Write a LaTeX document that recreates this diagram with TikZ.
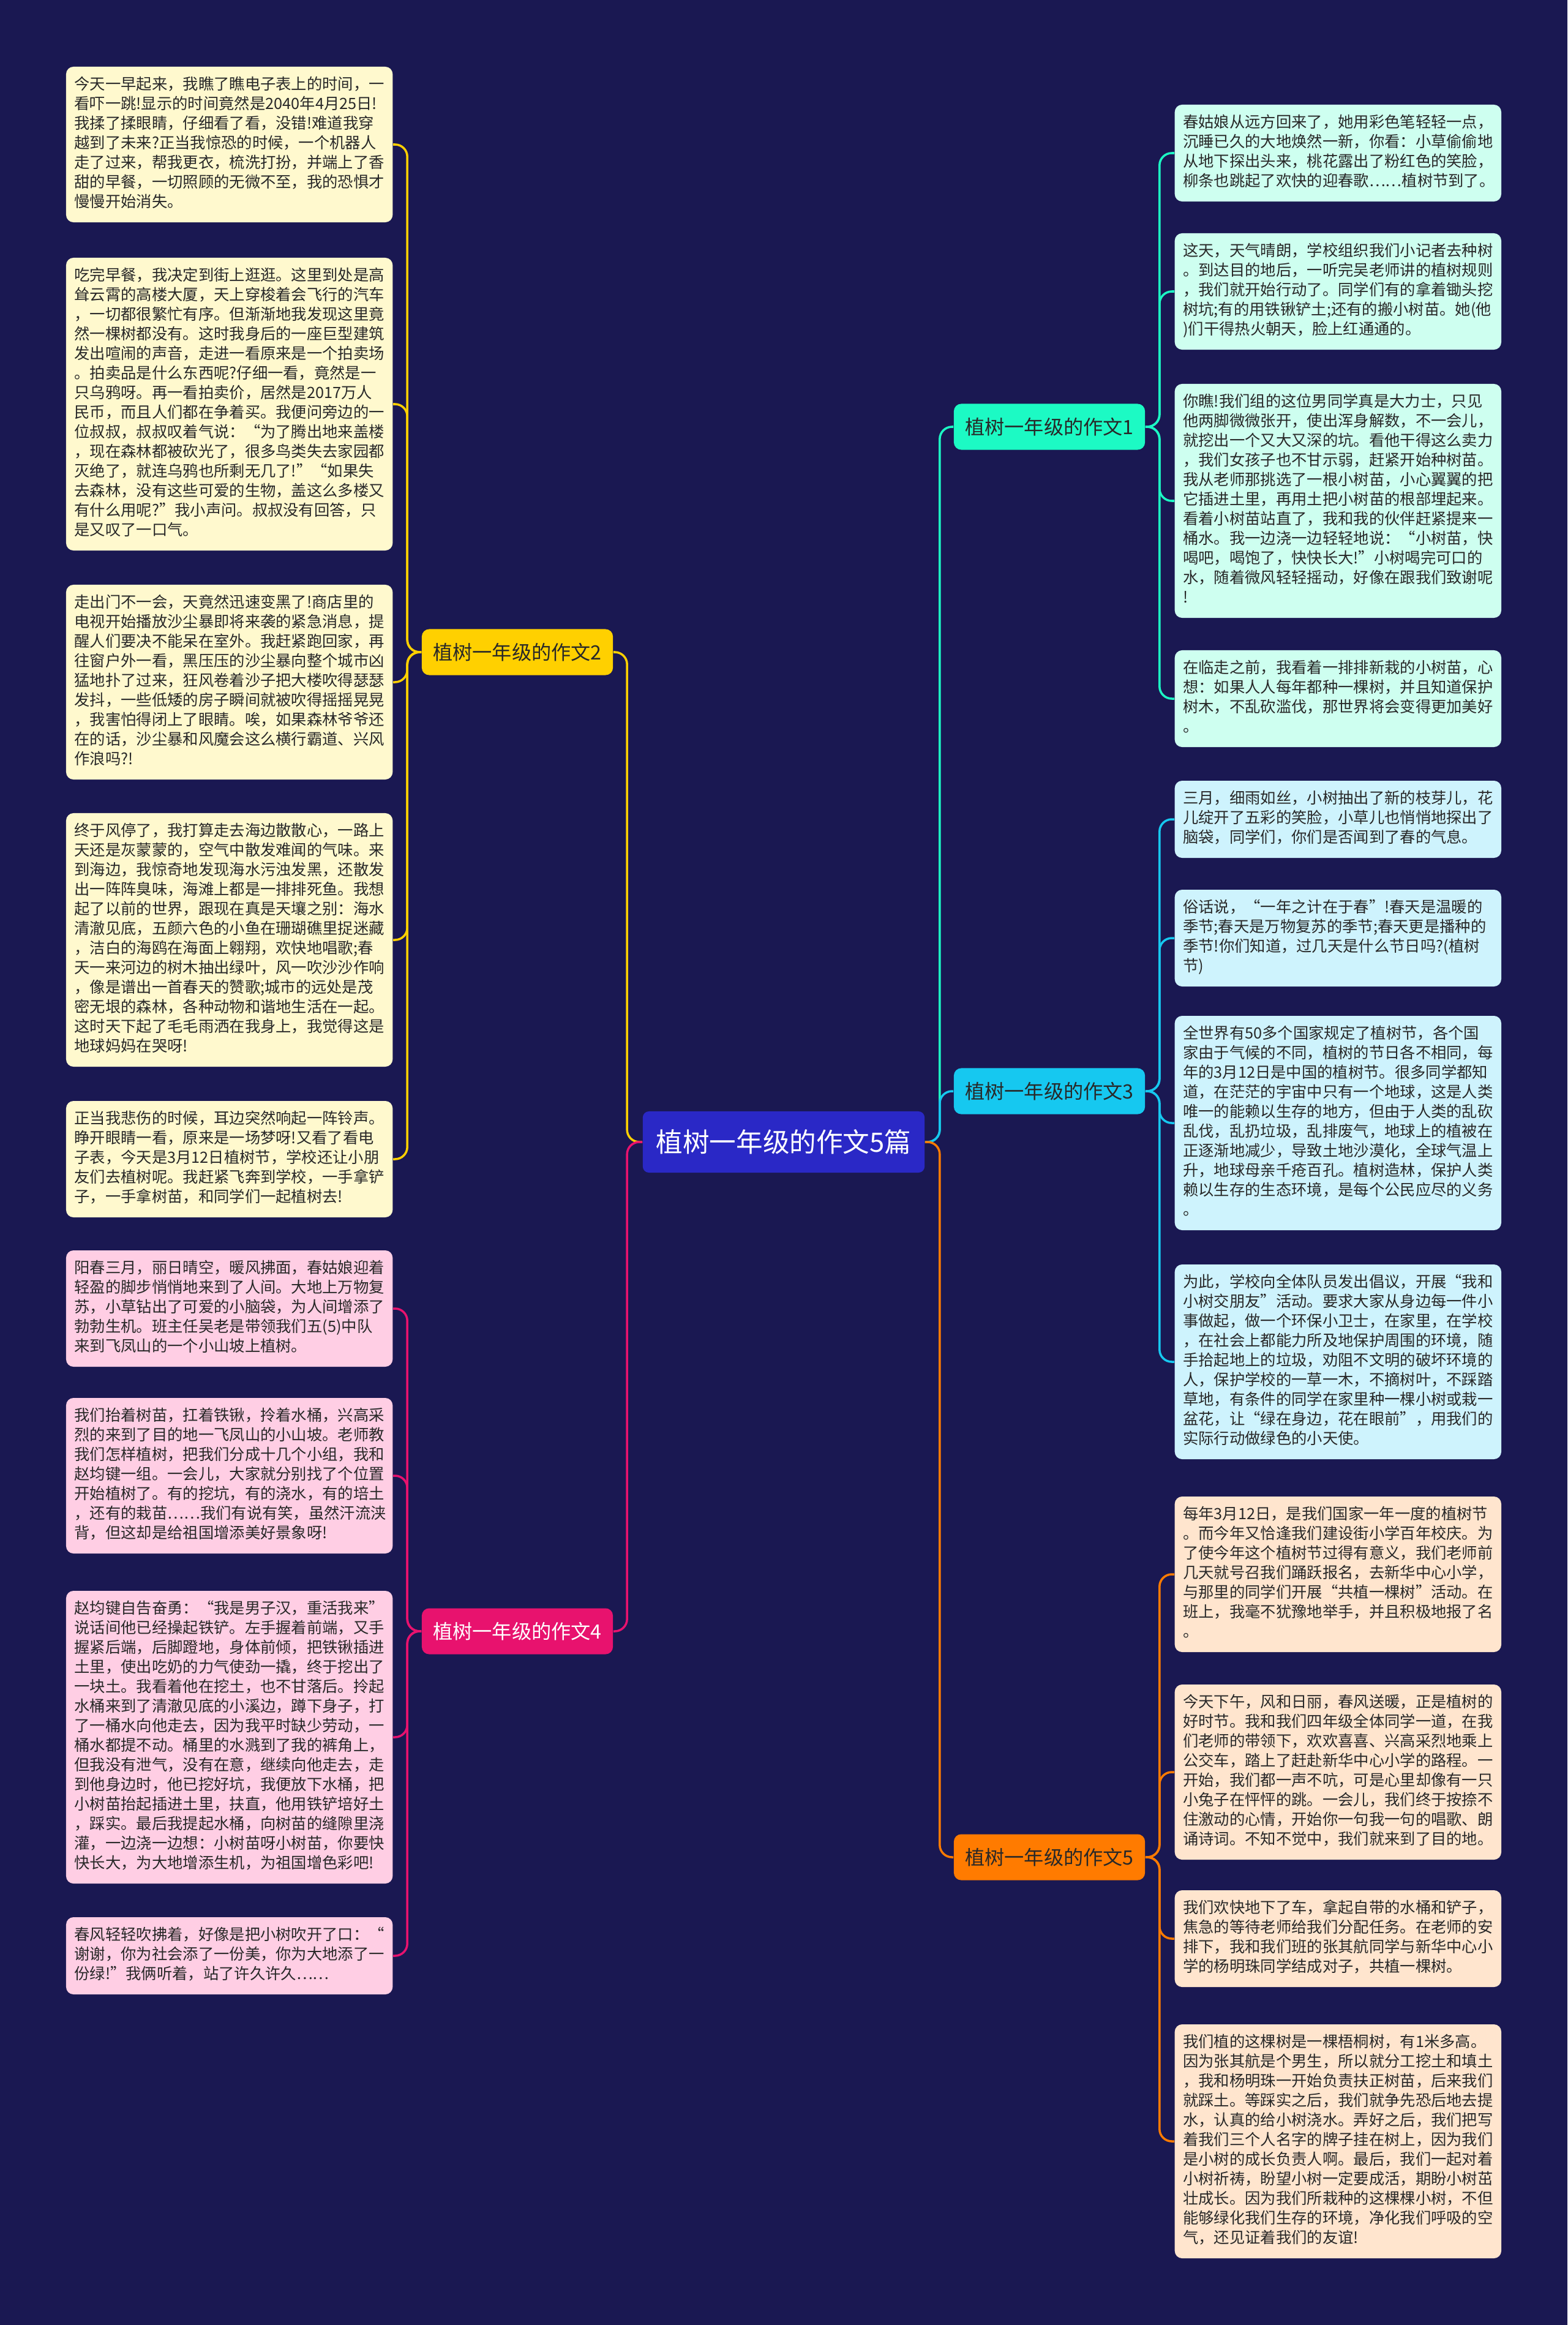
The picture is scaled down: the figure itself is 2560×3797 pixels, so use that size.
\documentclass[tikz,border=0pt]{standalone}
\usepackage{fontspec}
\setmainfont{Noto Sans CJK SC}
\definecolor{bgnavy}{RGB}{26,24,82}
\definecolor{rootblue}{RGB}{42,40,198}
\definecolor{tealbr}{RGB}{28,250,196}
\definecolor{yellowbr}{RGB}{255,208,0}
\definecolor{cyanbr}{RGB}{22,200,240}
\definecolor{pinkbr}{RGB}{232,18,110}
\definecolor{orangebr}{RGB}{255,123,0}
\definecolor{tealleaf}{RGB}{206,255,240}
\definecolor{yellowleaf}{RGB}{255,249,206}
\definecolor{cyanleaf}{RGB}{206,243,253}
\definecolor{pinkleaf}{RGB}{255,206,228}
\definecolor{orangeleaf}{RGB}{255,229,206}
\definecolor{leaftext}{RGB}{40,40,40}
\newcommand{\leaffont}{\fontsize{7.2pt}{9.1pt}\selectfont}
\newcommand{\branchfont}{\fontsize{9.15pt}{11pt}\selectfont}
\newcommand{\rootfont}{\fontsize{12.4pt}{15pt}\selectfont}

\begin{document}
\begin{tikzpicture}[x=0.01cm,y=-0.01cm,
  leaf/.style={rounded corners=0.12cm, inner xsep=0.135cm, inner ysep=0.15cm,
    text width=5.06cm, align=left, font=\leaffont, text=leaftext,
    execute at begin node=\strut, execute at end node=\strut},
  branch/.style={rounded corners=0.12cm, minimum width=3.12cm, minimum height=0.75cm,
    inner sep=0pt, font=\branchfont, text=leaftext},
  link/.style={line width=1pt, rounded corners=0.2cm}]
\fill[bgnavy] (0,0) rectangle (2560,3797);

% centre and branches
\node[fill=rootblue, text=white, rounded corners=0.1cm, minimum width=4.6cm,
  minimum height=1cm, inner sep=0pt, font=\rootfont] (root) at (1280,1865) {植树一年级的作文5篇};
\node[branch, fill=tealbr]   (e1) at (1714,697)  {植树一年级的作文1};
\node[branch, fill=yellowbr] (e2) at (845,1065)  {植树一年级的作文2};
\node[branch, fill=cyanbr]   (e3) at (1714,1782) {植树一年级的作文3};
\node[branch, fill=pinkbr, text=white] (e4) at (845,2664) {植树一年级的作文4};
\node[branch, fill=orangebr] (e5) at (1714,3033) {植树一年级的作文5};

% essay 1
\node[leaf, fill=tealleaf, anchor=west] (e1a) at (1918,250) {春姑娘从远方回来了，她用彩色笔轻轻一点，\\
沉睡已久的大地焕然一新，你看：小草偷偷地\\
从地下探出头来，桃花露出了粉红色的笑脸，\\
柳条也跳起了欢快的迎春歌……植树节到了。};
\node[leaf, fill=tealleaf, anchor=west] (e1b) at (1918,476) {这天，天气晴朗，学校组织我们小记者去种树\\
。到达目的地后，一听完吴老师讲的植树规则\\
，我们就开始行动了。同学们有的拿着锄头挖\\
树坑;有的用铁锹铲土;还有的搬小树苗。她(他\\
)们干得热火朝天，脸上红通通的。};
\node[leaf, fill=tealleaf, anchor=west] (e1c) at (1918,818) {你瞧!我们组的这位男同学真是大力士，只见\\
他两脚微微张开，使出浑身解数，不一会儿，\\
就挖出一个又大又深的坑。看他干得这么卖力\\
，我们女孩子也不甘示弱，赶紧开始种树苗。\\
我从老师那挑选了一根小树苗，小心翼翼的把\\
它插进土里，再用土把小树苗的根部埋起来。\\
看着小树苗站直了，我和我的伙伴赶紧提来一\\
桶水。我一边浇一边轻轻地说：“小树苗，快\\
喝吧，喝饱了，快快长大!”小树喝完可口的\\
水，随着微风轻轻摇动，好像在跟我们致谢呢\\
!};
\node[leaf, fill=tealleaf, anchor=west] (e1d) at (1918,1141) {在临走之前，我看着一排排新栽的小树苗，心\\
想：如果人人每年都种一棵树，并且知道保护\\
树木，不乱砍滥伐，那世界将会变得更加美好\\
。};

% essay 2
\node[leaf, fill=yellowleaf, anchor=east] (e2a) at (642,236) {今天一早起来，我瞧了瞧电子表上的时间，一\\
看吓一跳!显示的时间竟然是2040年4月25日!\\
我揉了揉眼睛，仔细看了看，没错!难道我穿\\
越到了未来?正当我惊恐的时候，一个机器人\\
走了过来，帮我更衣，梳洗打扮，并端上了香\\
甜的早餐，一切照顾的无微不至，我的恐惧才\\
慢慢开始消失。};
\node[leaf, fill=yellowleaf, anchor=east] (e2b) at (642,660) {吃完早餐，我决定到街上逛逛。这里到处是高\\
耸云霄的高楼大厦，天上穿梭着会飞行的汽车\\
，一切都很繁忙有序。但渐渐地我发现这里竟\\
然一棵树都没有。这时我身后的一座巨型建筑\\
发出喧闹的声音，走进一看原来是一个拍卖场\\
。拍卖品是什么东西呢?仔细一看，竟然是一\\
只乌鸦呀。再一看拍卖价，居然是2017万人\\
民币，而且人们都在争着买。我便问旁边的一\\
位叔叔，叔叔叹着气说：“为了腾出地来盖楼\\
，现在森林都被砍光了，很多鸟类失去家园都\\
灭绝了，就连乌鸦也所剩无几了!”“如果失\\
去森林，没有这些可爱的生物，盖这么多楼又\\
有什么用呢?”我小声问。叔叔没有回答，只\\
是又叹了一口气。};
\node[leaf, fill=yellowleaf, anchor=east] (e2c) at (642,1114) {走出门不一会，天竟然迅速变黑了!商店里的\\
电视开始播放沙尘暴即将来袭的紧急消息，提\\
醒人们要决不能呆在室外。我赶紧跑回家，再\\
往窗户外一看，黑压压的沙尘暴向整个城市凶\\
猛地扑了过来，狂风卷着沙子把大楼吹得瑟瑟\\
发抖，一些低矮的房子瞬间就被吹得摇摇晃晃\\
，我害怕得闭上了眼睛。唉，如果森林爷爷还\\
在的话，沙尘暴和风魔会这么横行霸道、兴风\\
作浪吗?!};
\node[leaf, fill=yellowleaf, anchor=east] (e2d) at (642,1535) {终于风停了，我打算走去海边散散心，一路上\\
天还是灰蒙蒙的，空气中散发难闻的气味。来\\
到海边，我惊奇地发现海水污浊发黑，还散发\\
出一阵阵臭味，海滩上都是一排排死鱼。我想\\
起了以前的世界，跟现在真是天壤之别：海水\\
清澈见底，五颜六色的小鱼在珊瑚礁里捉迷藏\\
，洁白的海鸥在海面上翱翔，欢快地唱歌;春\\
天一来河边的树木抽出绿叶，风一吹沙沙作响\\
，像是谱出一首春天的赞歌;城市的远处是茂\\
密无垠的森林，各种动物和谐地生活在一起。\\
这时天下起了毛毛雨洒在我身上，我觉得这是\\
地球妈妈在哭呀!};
\node[leaf, fill=yellowleaf, anchor=east] (e2e) at (642,1893) {正当我悲伤的时候，耳边突然响起一阵铃声。\\
睁开眼睛一看，原来是一场梦呀!又看了看电\\
子表，今天是3月12日植树节，学校还让小朋\\
友们去植树呢。我赶紧飞奔到学校，一手拿铲\\
子，一手拿树苗，和同学们一起植树去!};

% essay 3
\node[leaf, fill=cyanleaf, anchor=west] (e3a) at (1918,1338) {三月，细雨如丝，小树抽出了新的枝芽儿，花\\
儿绽开了五彩的笑脸，小草儿也悄悄地探出了\\
脑袋，同学们，你们是否闻到了春的气息。};
\node[leaf, fill=cyanleaf, anchor=west] (e3b) at (1918,1532) {俗话说，“一年之计在于春”!春天是温暖的\\
季节;春天是万物复苏的季节;春天更是播种的\\
季节!你们知道，过几天是什么节日吗?(植树\\
节)};
\node[leaf, fill=cyanleaf, anchor=west] (e3c) at (1918,1834) {全世界有50多个国家规定了植树节，各个国\\
家由于气候的不同，植树的节日各不相同，每\\
年的3月12日是中国的植树节。很多同学都知\\
道，在茫茫的宇宙中只有一个地球，这是人类\\
唯一的能赖以生存的地方，但由于人类的乱砍\\
乱伐，乱扔垃圾，乱排废气，地球上的植被在\\
正逐渐地减少，导致土地沙漠化，全球气温上\\
升，地球母亲千疮百孔。植树造林，保护人类\\
赖以生存的生态环境，是每个公民应尽的义务\\
。};
\node[leaf, fill=cyanleaf, anchor=west] (e3d) at (1918,2224) {为此，学校向全体队员发出倡议，开展“我和\\
小树交朋友”活动。要求大家从身边每一件小\\
事做起，做一个环保小卫士，在家里，在学校\\
，在社会上都能力所及地保护周围的环境，随\\
手拾起地上的垃圾，劝阻不文明的破坏环境的\\
人，保护学校的一草一木，不摘树叶，不踩踏\\
草地，有条件的同学在家里种一棵小树或栽一\\
盆花，让“绿在身边，花在眼前”，用我们的\\
实际行动做绿色的小天使。};

% essay 4
\node[leaf, fill=pinkleaf, anchor=east] (e4a) at (642,2137) {阳春三月，丽日晴空，暖风拂面，春姑娘迎着\\
轻盈的脚步悄悄地来到了人间。大地上万物复\\
苏，小草钻出了可爱的小脑袋，为人间增添了\\
勃勃生机。班主任吴老是带领我们五(5)中队\\
来到飞凤山的一个小山坡上植树。};
\node[leaf, fill=pinkleaf, anchor=east] (e4b) at (642,2410) {我们抬着树苗，扛着铁锹，拎着水桶，兴高采\\
烈的来到了目的地一飞凤山的小山坡。老师教\\
我们怎样植树，把我们分成十几个小组，我和\\
赵均键一组。一会儿，大家就分别找了个位置\\
开始植树了。有的挖坑，有的浇水，有的培土\\
，还有的栽苗……我们有说有笑，虽然汗流浃\\
背，但这却是给祖国增添美好景象呀!};
\node[leaf, fill=pinkleaf, anchor=east] (e4c) at (642,2837) {赵均键自告奋勇：“我是男子汉，重活我来”\\
说话间他已经操起铁铲。左手握着前端，又手\\
握紧后端，后脚蹬地，身体前倾，把铁锹插进\\
土里，使出吃奶的力气使劲一撬，终于挖出了\\
一块土。我看着他在挖土，也不甘落后。拎起\\
水桶来到了清澈见底的小溪边，蹲下身子，打\\
了一桶水向他走去，因为我平时缺少劳动，一\\
桶水都提不动。桶里的水溅到了我的裤角上，\\
但我没有泄气，没有在意，继续向他走去，走\\
到他身边时，他已挖好坑，我便放下水桶，把\\
小树苗抬起插进土里，扶直，他用铁铲培好土\\
，踩实。最后我提起水桶，向树苗的缝隙里浇\\
灌，一边浇一边想：小树苗呀小树苗，你要快\\
快长大，为大地增添生机，为祖国增色彩吧!};
\node[leaf, fill=pinkleaf, anchor=east] (e4d) at (642,3194) {春风轻轻吹拂着，好像是把小树吹开了口：“\\
谢谢，你为社会添了一份美，你为大地添了一\\
份绿!”我俩听着，站了许久许久……};

% essay 5
\node[leaf, fill=orangeleaf, anchor=west] (e5a) at (1918,2571) {每年3月12日，是我们国家一年一度的植树节\\
。而今年又恰逢我们建设街小学百年校庆。为\\
了使今年这个植树节过得有意义，我们老师前\\
几天就号召我们踊跃报名，去新华中心小学，\\
与那里的同学们开展“共植一棵树”活动。在\\
班上，我毫不犹豫地举手，并且积极地报了名\\
。};
\node[leaf, fill=orangeleaf, anchor=west] (e5b) at (1918,2894) {今天下午，风和日丽，春风送暖，正是植树的\\
好时节。我和我们四年级全体同学一道，在我\\
们老师的带领下，欢欢喜喜、兴高采烈地乘上\\
公交车，踏上了赶赴新华中心小学的路程。一\\
开始，我们都一声不吭，可是心里却像有一只\\
小兔子在怦怦的跳。一会儿，我们终于按捺不\\
住激动的心情，开始你一句我一句的唱歌、朗\\
诵诗词。不知不觉中，我们就来到了目的地。};
\node[leaf, fill=orangeleaf, anchor=west] (e5c) at (1918,3166) {我们欢快地下了车，拿起自带的水桶和铲子，\\
焦急的等待老师给我们分配任务。在老师的安\\
排下，我和我们班的张其航同学与新华中心小\\
学的杨明珠同学结成对子，共植一棵树。};
\node[leaf, fill=orangeleaf, anchor=west] (e5d) at (1918,3497) {我们植的这棵树是一棵梧桐树，有1米多高。\\
因为张其航是个男生，所以就分工挖土和填土\\
，我和杨明珠一开始负责扶正树苗，后来我们\\
就踩土。等踩实之后，我们就争先恐后地去提\\
水，认真的给小树浇水。弄好之后，我们把写\\
着我们三个人名字的牌子挂在树上，因为我们\\
是小树的成长负责人啊。最后，我们一起对着\\
小树祈祷，盼望小树一定要成活，期盼小树茁\\
壮成长。因为我们所栽种的这棵棵小树，不但\\
能够绿化我们生存的环境，净化我们呼吸的空\\
气，还见证着我们的友谊!};

% connectors
\draw[link, tealbr]   (root.east) -- ++(24,0) |- (e1.west);
\draw[link, cyanbr]   (root.east) -- ++(24,0) |- (e3.west);
\draw[link, orangebr] (root.east) -- ++(24,0) |- (e5.west);
\draw[link, yellowbr] (root.west) -- ++(-25,0) |- (e2.east);
\draw[link, pinkbr]   (root.west) -- ++(-25,0) |- (e4.east);
\foreach \leaf in {e1a,e1b,e1c,e1d}
  \draw[link, tealbr] (e1.east) -- ++(23,0) |- (\leaf.west);
\foreach \leaf in {e3a,e3b,e3c,e3d}
  \draw[link, cyanbr] (e3.east) -- ++(23,0) |- (\leaf.west);
\foreach \leaf in {e5a,e5b,e5c,e5d}
  \draw[link, orangebr] (e5.east) -- ++(23,0) |- (\leaf.west);
\foreach \leaf in {e2a,e2b,e2c,e2d,e2e}
  \draw[link, yellowbr] (e2.west) -- ++(-23,0) |- (\leaf.east);
\foreach \leaf in {e4a,e4b,e4c,e4d}
  \draw[link, pinkbr] (e4.west) -- ++(-23,0) |- (\leaf.east);
\end{tikzpicture}
\end{document}
